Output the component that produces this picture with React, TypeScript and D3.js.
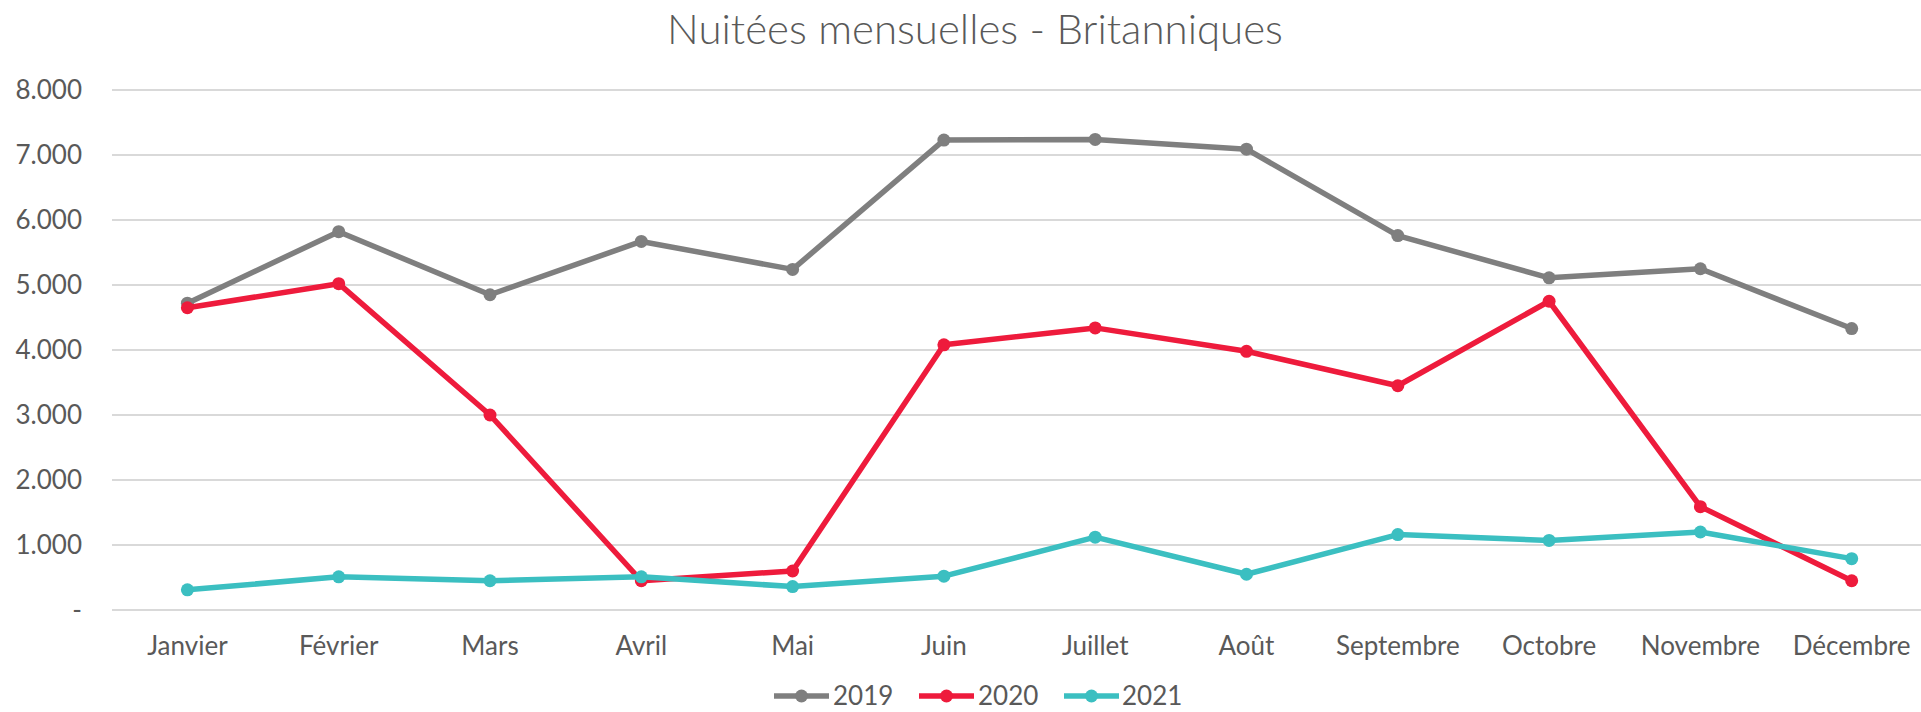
import React from "react";
import * as d3 from "d3";

const months = ["Janvier", "Février", "Mars", "Avril", "Mai", "Juin", "Juillet", "Août", "Septembre", "Octobre", "Novembre", "Décembre"];
const v2019 = [4720, 5820, 4850, 5670, 5240, 7230, 7240, 7090, 5760, 5110, 5250, 4330];
const v2020 = [4650, 5020, 3000, 450, 600, 4080, 4340, 3980, 3450, 4750, 1590, 450];
const v2021 = [310, 510, 450, 510, 360, 520, 1120, 550, 1160, 1070, 1200, 790];
const yTicks = [0, 1000, 2000, 3000, 4000, 5000, 6000, 7000, 8000];
const seriesNames = ["2019", "2020", "2021"];
const title = "Nuitées mensuelles - Britanniques";

const W = 1921;
const H = 712;
const colors = ["#7F7F7F", "#EE1B3C", "#3BBFC1"];
const textColor = "#595959";
const font = "Lato, 'Noto Sans', sans-serif";

export default function App() {
  const x = d3.scalePoint<string>().domain(months).range([187.4, 1851.7]);
  const y = d3.scaleLinear().domain([0, 8000]).range([610, 90]);
  const gridX0 = 112;
  const gridX1 = 1930;
  const line = d3
    .line<number>()
    .x((_, i) => x(months[i]) as number)
    .y((d) => y(d));
  const fmt = (v: number) => (v === 0 ? "-" : d3.format(",")(v).replace(/,/g, "."));
  const data = [v2019, v2020, v2021];

  const legendItems = [
    { lx: 774, tx: 833 },
    { lx: 919, tx: 978 },
    { lx: 1064, tx: 1122 },
  ];
  const legendY = 696;

  return (
    <svg width={W} height={H} style={{ position: "absolute", left: 0, top: 0, background: "#fff" }} fontFamily={font}>
      <rect x={0} y={0} width={W} height={H} fill="#fff" />
      <text x={975} y={44} textAnchor="middle" fontSize={42} fill={textColor} fontWeight={300}>
        {title}
      </text>
      {yTicks.map((t) => (
        <g key={t}>
          <line x1={gridX0} x2={gridX1} y1={y(t)} y2={y(t)} stroke="#D9D9D9" strokeWidth={2} />
          <text x={82} y={y(t)} dy="0.35em" textAnchor="end" fontSize={26} fill={textColor}>
            {fmt(t)}
          </text>
        </g>
      ))}
      {months.map((m) => (
        <text key={m} x={x(m)} y={646} dy="0.35em" textAnchor="middle" fontSize={26} fill={textColor}>
          {m}
        </text>
      ))}
      {data.map((s, si) => (
        <g key={si}>
          <path d={line(s) || ""} fill="none" stroke={colors[si]} strokeWidth={5.5} strokeLinejoin="round" />
          {s.map((v, i) => (
            <circle key={i} cx={x(months[i])} cy={y(v)} r={6.5} fill={colors[si]} />
          ))}
        </g>
      ))}
      {seriesNames.map((n, i) => (
        <g key={n}>
          <line x1={legendItems[i].lx} x2={legendItems[i].lx + 55} y1={legendY} y2={legendY} stroke={colors[i]} strokeWidth={5.5} />
          <circle cx={legendItems[i].lx + 27.5} cy={legendY} r={6.5} fill={colors[i]} />
          <text x={legendItems[i].tx} y={legendY} dy="0.35em" fontSize={26} fill={textColor}>
            {n}
          </text>
        </g>
      ))}
    </svg>
  );
}
